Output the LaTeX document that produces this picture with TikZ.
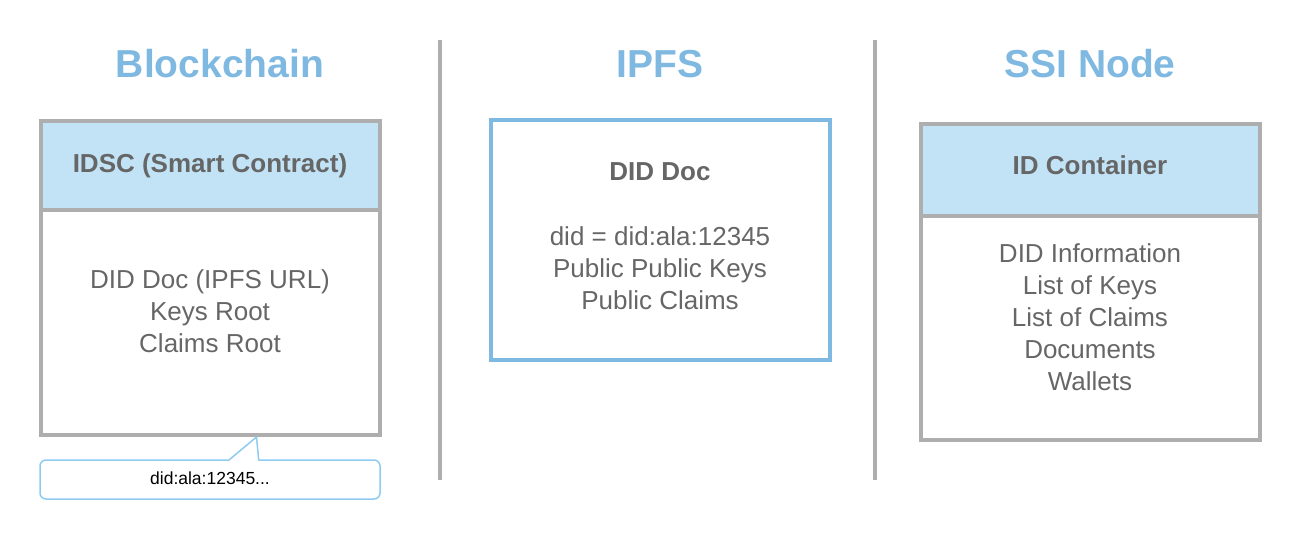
\documentclass[tikz,border=0pt]{standalone}
\usepackage{fontspec}
\setmainfont{Liberation Sans}
\definecolor{titleblue}{HTML}{7FB9E1}
\definecolor{headfill}{HTML}{C2E3F6}
\definecolor{boxgray}{HTML}{AEAEAE}
\definecolor{textgray}{HTML}{666666}
\definecolor{tagblue}{HTML}{8FCBF0}
\begin{document}
\begin{tikzpicture}[x=1pt,y=-1pt,
  title/.style={anchor=base,text=titleblue,font=\fontsize{39}{44}\selectfont\bfseries,inner sep=0pt},
  panel/.style={draw=boxgray,line width=4pt,rectangle,inner sep=0pt},
  headpanel/.style={panel,fill=headfill},
  ipfspanel/.style={draw=titleblue,line width=4pt,rectangle,inner sep=0pt},
  headtext/.style={anchor=base,text=textgray,font=\fontsize{26}{32}\selectfont\bfseries,inner sep=0pt},
  bodytext/.style={anchor=base,text=textgray,align=center,font=\fontsize{26}{32}\selectfont,inner sep=0pt},
  divider/.style={draw=boxgray,line width=4pt},
  tag/.style={draw=tagblue,line width=1.5pt,fill=white,line join=round}]
\useasboundingbox (0,0) rectangle (1300,540);

% column separators
\draw[divider] (440,40) -- (440,480);
\draw[divider] (875,40) -- (875,480);

% column titles
\node[title] (tbc) at (220,78) {Blockchain};
\node[title] (tipfs) at (660,78) {IPFS};
\node[title] (tssi) at (1090,78) {SSI Node};

% Blockchain: smart contract panel
\node[panel,minimum width=339.5pt,minimum height=225pt] (bcbody) at (210.25,322.5) {};
\node[headpanel,minimum width=339.5pt,minimum height=89pt] (bchead) at (210.25,165.5) {};
\node[headtext] (bcheadtxt) at (210,172) {IDSC (Smart Contract)};
% base anchor of a multi-line node sits on its last line
\node[bodytext] (bctxt) at (210,352.5) {DID Doc (IPFS URL)\\Keys Root\\Claims Root};

% callout with the identifier
\coordinate (tip) at (256.5,437);
\draw[tag] (tip) -- (258.7,460) [rounded corners=6pt] -- (380,460) -- (380,499)
  -- (40,499) -- (40,460) [sharp corners] -- (229,460) -- cycle;
\node[anchor=base,inner sep=0pt,font=\fontsize{17.5}{20}\selectfont] (tagtxt) at (210,484) {did:ala:12345...};

% IPFS: DID document
\node[ipfspanel,minimum width=339.5pt,minimum height=239.5pt] (ipfs) at (660.25,240.25) {};
\node[headtext] (ipfshead) at (660,181) {DID Doc};
\node[bodytext] (ipfstxt) at (660,309) {did = did:ala:12345\\Public Public Keys\\Public Claims};

% SSI node: ID container
\node[panel,minimum width=339.5pt,minimum height=223.5pt] (ssibody) at (1090.25,327.75) {};
\node[headpanel,minimum width=339.5pt,minimum height=92pt] (ssihead) at (1090.25,170) {};
\node[headtext] (ssiheadtxt) at (1090,175) {ID Container};
\node[bodytext] (ssitxt) at (1090,390) {DID Information\\List of Keys\\List of Claims\\Documents\\Wallets};
\end{tikzpicture}
\end{document}
